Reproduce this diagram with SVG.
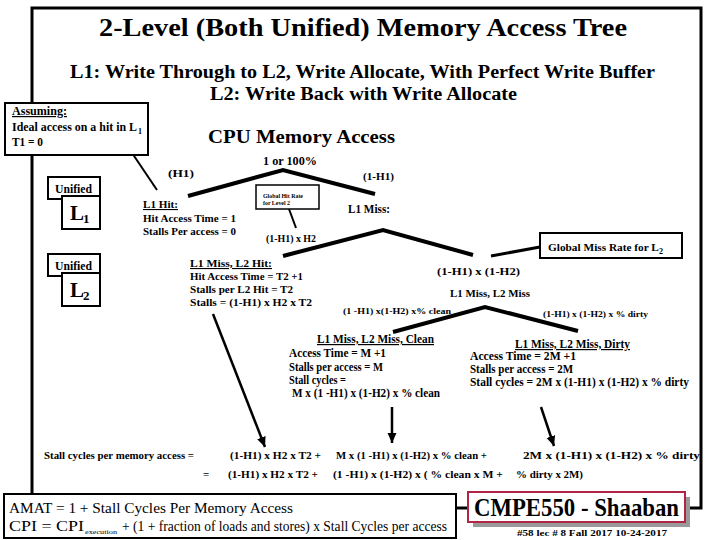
<svg xmlns="http://www.w3.org/2000/svg" width="720" height="540" viewBox="0 0 720 540">
<style>
.b{font-family:'Liberation Serif','Times New Roman',serif;font-weight:bold;fill:#000}
.r{font-family:'Liberation Serif','Times New Roman',serif;fill:#000}
.box{fill:#fff;stroke:#000;stroke-width:2}
.tree{stroke:#000;stroke-width:4;fill:none}
.ptr{stroke:#000;stroke-width:2;fill:none}
.arr{stroke:#000;stroke-width:2.5;fill:none;marker-end:url(#ah)}
.u{text-decoration:underline}
</style>
<defs>
<marker id="ah" markerUnits="userSpaceOnUse" markerWidth="12" markerHeight="10" refX="10" refY="5" orient="auto">
<path d="M0,0.5 L10,5 L0,9.5 Z" fill="#000"/>
</marker>
</defs>
<rect width="720" height="540" fill="#fff"/>
<g id="frame"><rect x="32" y="8" width="669" height="500" fill="none" stroke="#000" stroke-width="3"/></g>
<g id="title">
<text class="b" x="99" y="36" font-size="26" textLength="528" lengthAdjust="spacingAndGlyphs">2-Level (Both Unified) Memory Access Tree</text>
<text class="b" x="70" y="78" font-size="18" textLength="585" lengthAdjust="spacingAndGlyphs">L1: Write Through to L2, Write Allocate, With Perfect Write Buffer</text>
<text class="b" x="210" y="100" font-size="18" textLength="307" lengthAdjust="spacingAndGlyphs">L2: Write Back with Write Allocate</text>
</g>
<g id="connectors">
<polyline class="tree" points="188,196 283,170 375,194"/>
<polyline class="tree" points="283,256 383,230 473,255"/>
<polyline class="tree" points="393,332 485,307 578,331"/>
<line class="ptr" x1="126" y1="144" x2="157" y2="190"/>
<line class="ptr" x1="289" y1="209" x2="296" y2="228"/>
<line x1="540" y1="247" x2="491" y2="256" stroke="#000" stroke-width="3"/>
<line class="arr" x1="213" y1="314" x2="265" y2="447"/>
<line class="arr" x1="392" y1="407" x2="392" y2="443"/>
<line class="arr" x1="541" y1="407" x2="554" y2="446"/>
</g>
<g id="assuming">
<rect class="box" x="5" y="103" width="143" height="52"/>
<text class="b u" x="12" y="115" font-size="12" textLength="55" lengthAdjust="spacingAndGlyphs">Assuming:</text>
<text class="b" x="12" y="131" font-size="12" textLength="125" lengthAdjust="spacingAndGlyphs">Ideal access on a hit in L</text>
<text class="b" x="138" y="134" font-size="8">1</text>
<text class="b" x="12" y="146" font-size="12" textLength="31" lengthAdjust="spacingAndGlyphs">T1 = 0</text>
</g>
<g id="cpu">
<text class="b" x="208" y="143" font-size="19" textLength="187" lengthAdjust="spacingAndGlyphs">CPU Memory  Access</text>
<text class="b" x="263" y="165" font-size="12" textLength="54" lengthAdjust="spacingAndGlyphs">1 or 100%</text>
</g>
<g id="h1label"><text class="b" x="168" y="177" font-size="11" textLength="26" lengthAdjust="spacingAndGlyphs">(H1)</text></g>
<g id="missh1label"><text class="b" x="363" y="180" font-size="11" textLength="31" lengthAdjust="spacingAndGlyphs">(1-H1)</text></g>
<g id="unified-l1">
<rect class="box" x="48" y="177" width="52" height="22"/>
<text class="b" x="55" y="193" font-size="12" textLength="37" lengthAdjust="spacingAndGlyphs">Unified</text>
<rect class="box" x="62" y="196" width="38" height="33"/>
<text class="b" x="70" y="220" font-size="21">L</text>
<text class="b" x="83" y="223" font-size="13">1</text>
</g>
<g id="unified-l2">
<rect class="box" x="48" y="254" width="52" height="22"/>
<text class="b" x="55" y="270" font-size="12" textLength="37" lengthAdjust="spacingAndGlyphs">Unified</text>
<rect class="box" x="62" y="273" width="38" height="33"/>
<text class="b" x="70" y="297" font-size="21">L</text>
<text class="b" x="83" y="300" font-size="13">2</text>
</g>
<g id="l1hit">
<text class="b u" x="143" y="208" font-size="11" textLength="35" lengthAdjust="spacingAndGlyphs">L1  Hit:</text>
<text class="b" x="143" y="222" font-size="11" textLength="93" lengthAdjust="spacingAndGlyphs">Hit Access Time = 1</text>
<text class="b" x="143" y="235" font-size="11" textLength="93" lengthAdjust="spacingAndGlyphs">Stalls Per access = 0</text>
</g>
<g id="globalhit">
<rect x="256" y="185" width="63" height="24" fill="#fff" stroke="#000" stroke-width="1.5"/>
<text class="b" x="263" y="198" font-size="6.5" textLength="40" lengthAdjust="spacingAndGlyphs">Global Hit Rate</text>
<text class="b" x="263" y="205" font-size="6.5" textLength="27" lengthAdjust="spacingAndGlyphs">for Level 2</text>
</g>
<g id="l1miss"><text class="b" x="348" y="213" font-size="12" textLength="42" lengthAdjust="spacingAndGlyphs">L1  Miss:</text></g>
<g id="h2label"><text class="b" x="266" y="242" font-size="11" textLength="50" lengthAdjust="spacingAndGlyphs">(1-H1) x H2</text></g>
<g id="l2hit">
<text class="b u" x="190" y="267" font-size="11" textLength="82" lengthAdjust="spacingAndGlyphs">L1 Miss, L2 Hit:</text>
<text class="b" x="190" y="280" font-size="11" textLength="113" lengthAdjust="spacingAndGlyphs">Hit Access Time = T2 +1</text>
<text class="b" x="190" y="293" font-size="11" textLength="103" lengthAdjust="spacingAndGlyphs">Stalls per L2 Hit = T2</text>
<text class="b" x="190" y="306" font-size="11" textLength="122" lengthAdjust="spacingAndGlyphs">Stalls =  (1-H1) x H2 x T2</text>
</g>
<g id="globalmiss">
<rect class="box" x="540" y="233" width="142" height="25"/>
<text class="b" x="548" y="251" font-size="11.3">Global Miss Rate for L<tspan font-size="8" dy="3">2</tspan></text>
</g>
<g id="l2miss">
<text class="b" x="437" y="275" font-size="11" textLength="83" lengthAdjust="spacingAndGlyphs">(1-H1) x (1-H2)</text>
<text class="b" x="450" y="297" font-size="11" textLength="80" lengthAdjust="spacingAndGlyphs">L1 Miss, L2  Miss</text>
</g>
<g id="cleanlabel"><text class="b" x="343" y="314" font-size="8.5" textLength="108" lengthAdjust="spacingAndGlyphs">(1 -H1)  x(1-H2) x% clean</text></g>
<g id="dirtylabel"><text class="b" x="543" y="317" font-size="8.5" textLength="105" lengthAdjust="spacingAndGlyphs">(1-H1)  x (1-H2) x  % dirty</text></g>
<g id="clean">
<text class="b u" x="317" y="343" font-size="12" textLength="117" lengthAdjust="spacingAndGlyphs">L1 Miss, L2  Miss, Clean</text>
<text class="b" x="289" y="357" font-size="12" textLength="97" lengthAdjust="spacingAndGlyphs">Access Time =  M +1</text>
<text class="b" x="289" y="371" font-size="12" textLength="94" lengthAdjust="spacingAndGlyphs">Stalls per access = M</text>
<text class="b" x="289" y="384" font-size="12" textLength="57" lengthAdjust="spacingAndGlyphs">Stall cycles =</text>
<text class="b" x="292" y="397" font-size="12" textLength="148" lengthAdjust="spacingAndGlyphs">M x (1 -H1)  x (1-H2) x %  clean</text>
</g>
<g id="dirty">
<text class="b u" x="515" y="348" font-size="12" textLength="115" lengthAdjust="spacingAndGlyphs">L1 Miss, L2  Miss, Dirty</text>
<text class="b" x="470" y="360" font-size="12" textLength="106" lengthAdjust="spacingAndGlyphs">Access Time =  2M +1</text>
<text class="b" x="470" y="373" font-size="12" textLength="103" lengthAdjust="spacingAndGlyphs">Stalls per access = 2M</text>
<text class="b" x="470" y="386" font-size="12" textLength="219" lengthAdjust="spacingAndGlyphs">Stall cycles =  2M x (1-H1)  x (1-H2) x  % dirty</text>
</g>
<g id="stallsum">
<text class="b" x="44" y="459" font-size="11" textLength="150" lengthAdjust="spacingAndGlyphs">Stall cycles per memory access =</text>
<text class="b" x="230" y="459" font-size="11" textLength="91" lengthAdjust="spacingAndGlyphs">(1-H1) x H2 x T2 +</text>
<text class="b" x="336" y="459" font-size="11" textLength="151" lengthAdjust="spacingAndGlyphs">M x (1 -H1)  x (1-H2)  x  % clean +</text>
<text class="b" x="523" y="459" font-size="11" textLength="177" lengthAdjust="spacingAndGlyphs">2M x (1-H1)  x (1-H2) x % dirty</text>
<text class="b" x="203" y="478" font-size="11">=</text>
<text class="b" x="228" y="478" font-size="11" textLength="90" lengthAdjust="spacingAndGlyphs">(1-H1) x H2 x T2 +</text>
<text class="b" x="333" y="478" font-size="11" textLength="170" lengthAdjust="spacingAndGlyphs">(1 -H1) x (1-H2)  x  ( % clean  x M  +</text>
<text class="b" x="516" y="478" font-size="11" textLength="67" lengthAdjust="spacingAndGlyphs">% dirty x 2M)</text>
</g>
<g id="amat">
<rect class="box" x="4" y="494" width="452" height="44"/>
<text class="r" x="9" y="513" font-size="15" textLength="284" lengthAdjust="spacingAndGlyphs">AMAT =   1 + Stall Cycles Per Memory Access</text>
<text class="r" x="9" y="531" font-size="15" textLength="75" lengthAdjust="spacingAndGlyphs">CPI = CPI</text>
<text class="r" x="85" y="534" font-size="7" textLength="32" lengthAdjust="spacingAndGlyphs">execution</text>
<text class="r" x="122" y="531" font-size="15" textLength="325" lengthAdjust="spacingAndGlyphs">+  (1  + fraction of loads and stores) x Stall Cycles per access</text>
</g>
<g id="logo">
<rect x="473" y="497" width="217" height="30" fill="#9a9a9a"/>
<rect x="468" y="492" width="217" height="30" fill="#fff" stroke="#b02444" stroke-width="2"/>
<text class="b" x="474" y="516" font-size="25" textLength="205" lengthAdjust="spacingAndGlyphs">CMPE550 - Shaaban</text>
<text class="b" x="517" y="536" font-size="9" textLength="150" lengthAdjust="spacingAndGlyphs">#58   lec # 8   Fall  2017  10-24-2017</text>
</g>
</svg>
